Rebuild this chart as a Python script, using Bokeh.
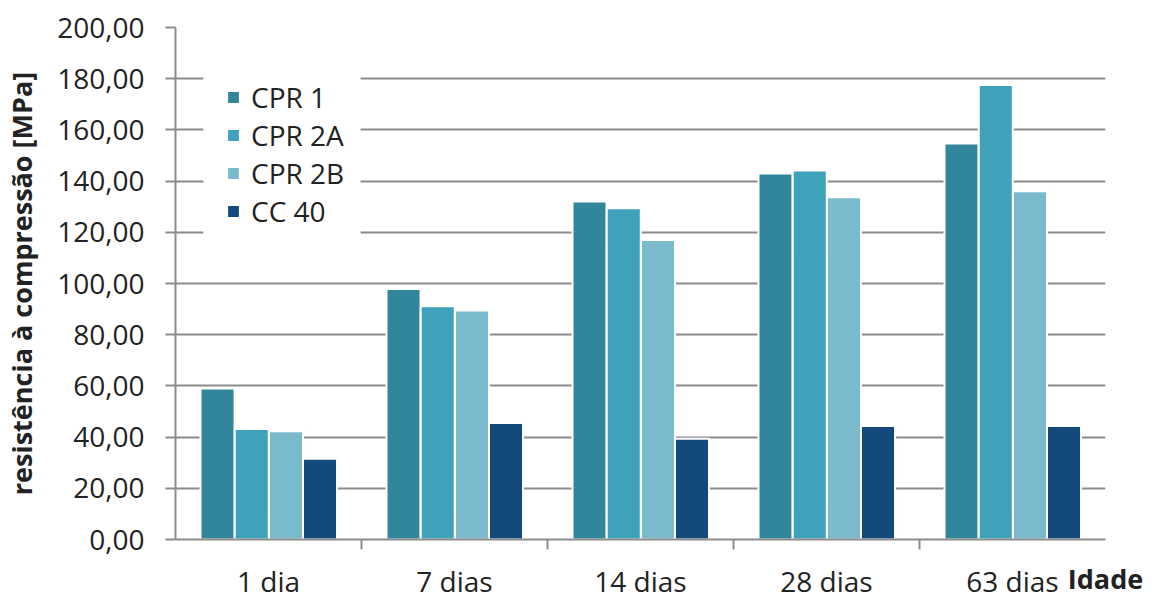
from bokeh.plotting import figure
from bokeh.models import (ColumnDataSource, FixedTicker, CategoricalAxis, FactorRange,
                          Range1d, Legend, LegendItem, BoxAnnotation)
from bokeh.transform import dodge
from bokeh.embed import file_html
from bokeh.resources import INLINE

categories = ["1 dia", "7 dias", "14 dias", "28 dias", "63 dias"]
series_names = ["CPR 1", "CPR 2A", "CPR 2B", "CC 40"]
cpr1 = [59.0, 97.9, 132.0, 143.0, 154.7]
cpr2a = [43.2, 91.1, 129.4, 144.1, 177.5]
cpr2b = [42.3, 89.5, 117.0, 133.7, 136.0]
cc40 = [31.5, 45.5, 39.4, 44.3, 44.3]
y_tick_values = [0, 20, 40, 60, 80, 100, 120, 140, 160, 180, 200]
y_tick_labels = ["0,00", "20,00", "40,00", "60,00", "80,00", "100,00",
                 "120,00", "140,00", "160,00", "180,00", "200,00"]
colors = ["#31869b", "#3fa1ba", "#7bbacd", "#14497c"]
y_label = "resistência à compressão [MPa]"
x_label = "Idade"

FONT = "Open Sans"
TXT = "#222222"
GRID = "#8c8c8c"

src = ColumnDataSource(data=dict(cat=categories, s0=cpr1, s1=cpr2a, s2=cpr2b, s3=cc40))

p = figure(x_range=categories, y_range=Range1d(0, 200), width=1157, height=601,
           output_backend="svg", toolbar_location=None, x_axis_location=None,
           min_border_left=175, min_border_right=52, min_border_top=27, min_border_bottom=62)
p.outline_line_color = None
p.background_fill_color = "white"

# y axis
yax = p.yaxis[0]
yax.ticker = FixedTicker(ticks=y_tick_values)
yax.major_label_overrides = {v: l for v, l in zip(y_tick_values, y_tick_labels)}
yax.major_label_text_font = FONT
yax.major_label_text_font_size = "28px"
yax.major_label_text_color = TXT
yax.major_label_standoff = 21
yax.major_tick_out = 10
yax.major_tick_in = 0
yax.minor_tick_line_color = None
yax.axis_line_color = GRID
yax.axis_line_width = 2
yax.major_tick_line_color = GRID
yax.major_tick_line_width = 2
yax.axis_label = y_label
yax.axis_label_text_font = FONT
yax.axis_label_text_font_style = "bold"
yax.axis_label_text_font_size = "27px"
yax.axis_label_text_color = TXT
yax.axis_label_standoff = 14

p.ygrid.grid_line_color = GRID
p.ygrid.grid_line_width = 2
p.ygrid.ticker = FixedTicker(ticks=y_tick_values)
p.xgrid.grid_line_color = None

# x axis: ticks at category boundaries (helper factor range whose factor centres sit on the boundaries)
n = len(categories)
bound_factors = [f"b{i}" for i in range(n + 1)]
p.extra_x_ranges = {"bounds": FactorRange(factors=bound_factors, range_padding=-1.0 / (n + 1),
                                          range_padding_units="percent")}
tick_ax = CategoricalAxis(x_range_name="bounds",
                          major_tick_out=10, major_tick_in=0,
                          major_label_text_font_size="0px", major_label_text_alpha=0,
                          major_label_standoff=0,
                          axis_line_color=GRID, axis_line_width=2,
                          major_tick_line_color=GRID, major_tick_line_width=2)
p.add_layout(tick_ax, "below")
cat_ax = CategoricalAxis(axis_line_color=None, major_tick_line_color=None,
                         major_label_text_font=FONT, major_label_text_font_size="28px",
                         major_label_text_color=TXT, major_label_standoff=6,
                         axis_label=x_label, axis_label_align="end",
                         axis_label_standoff_mode="axis", axis_label_standoff=10,
                         axis_label_text_align="center",
                         axis_label_text_font=FONT, axis_label_text_font_style="bold",
                         axis_label_text_font_size="27px", axis_label_text_color=TXT)
p.add_layout(cat_ax, "below")

# legend background box
p.add_layout(BoxAnnotation(left=0.15, right=0.995, bottom=118, top=181.5,
                           fill_color="white", fill_alpha=1, line_color=None, level="underlay"))

offsets = [-0.274, -0.09, 0.094, 0.277]
width = 0.183
renderers = []
for i, (name, c) in enumerate(zip(series_names, colors)):
    # soft shadow
    p.vbar(x=dodge("cat", offsets[i] + 0.006, range=p.x_range), top=f"s{i}", width=width,
           source=src, fill_color="#000000", fill_alpha=0.08, line_color=None)
    r = p.vbar(x=dodge("cat", offsets[i], range=p.x_range), top=f"s{i}", width=width,
               source=src, fill_color=c, line_color="white", line_width=2)
    renderers.append(r)

legend = Legend(items=[LegendItem(label=nm, renderers=[r]) for nm, r in zip(series_names, renderers)],
                location=(50, 309), orientation="vertical",
                background_fill_alpha=0, border_line_color=None,
                label_text_font=FONT, label_text_font_size="28px", label_text_color=TXT,
                glyph_width=16, glyph_height=16, label_height=38, spacing=0,
                padding=0, margin=0, label_standoff=10)
p.add_layout(legend, "center")

open("out.html", "w").write(file_html(p, INLINE))
